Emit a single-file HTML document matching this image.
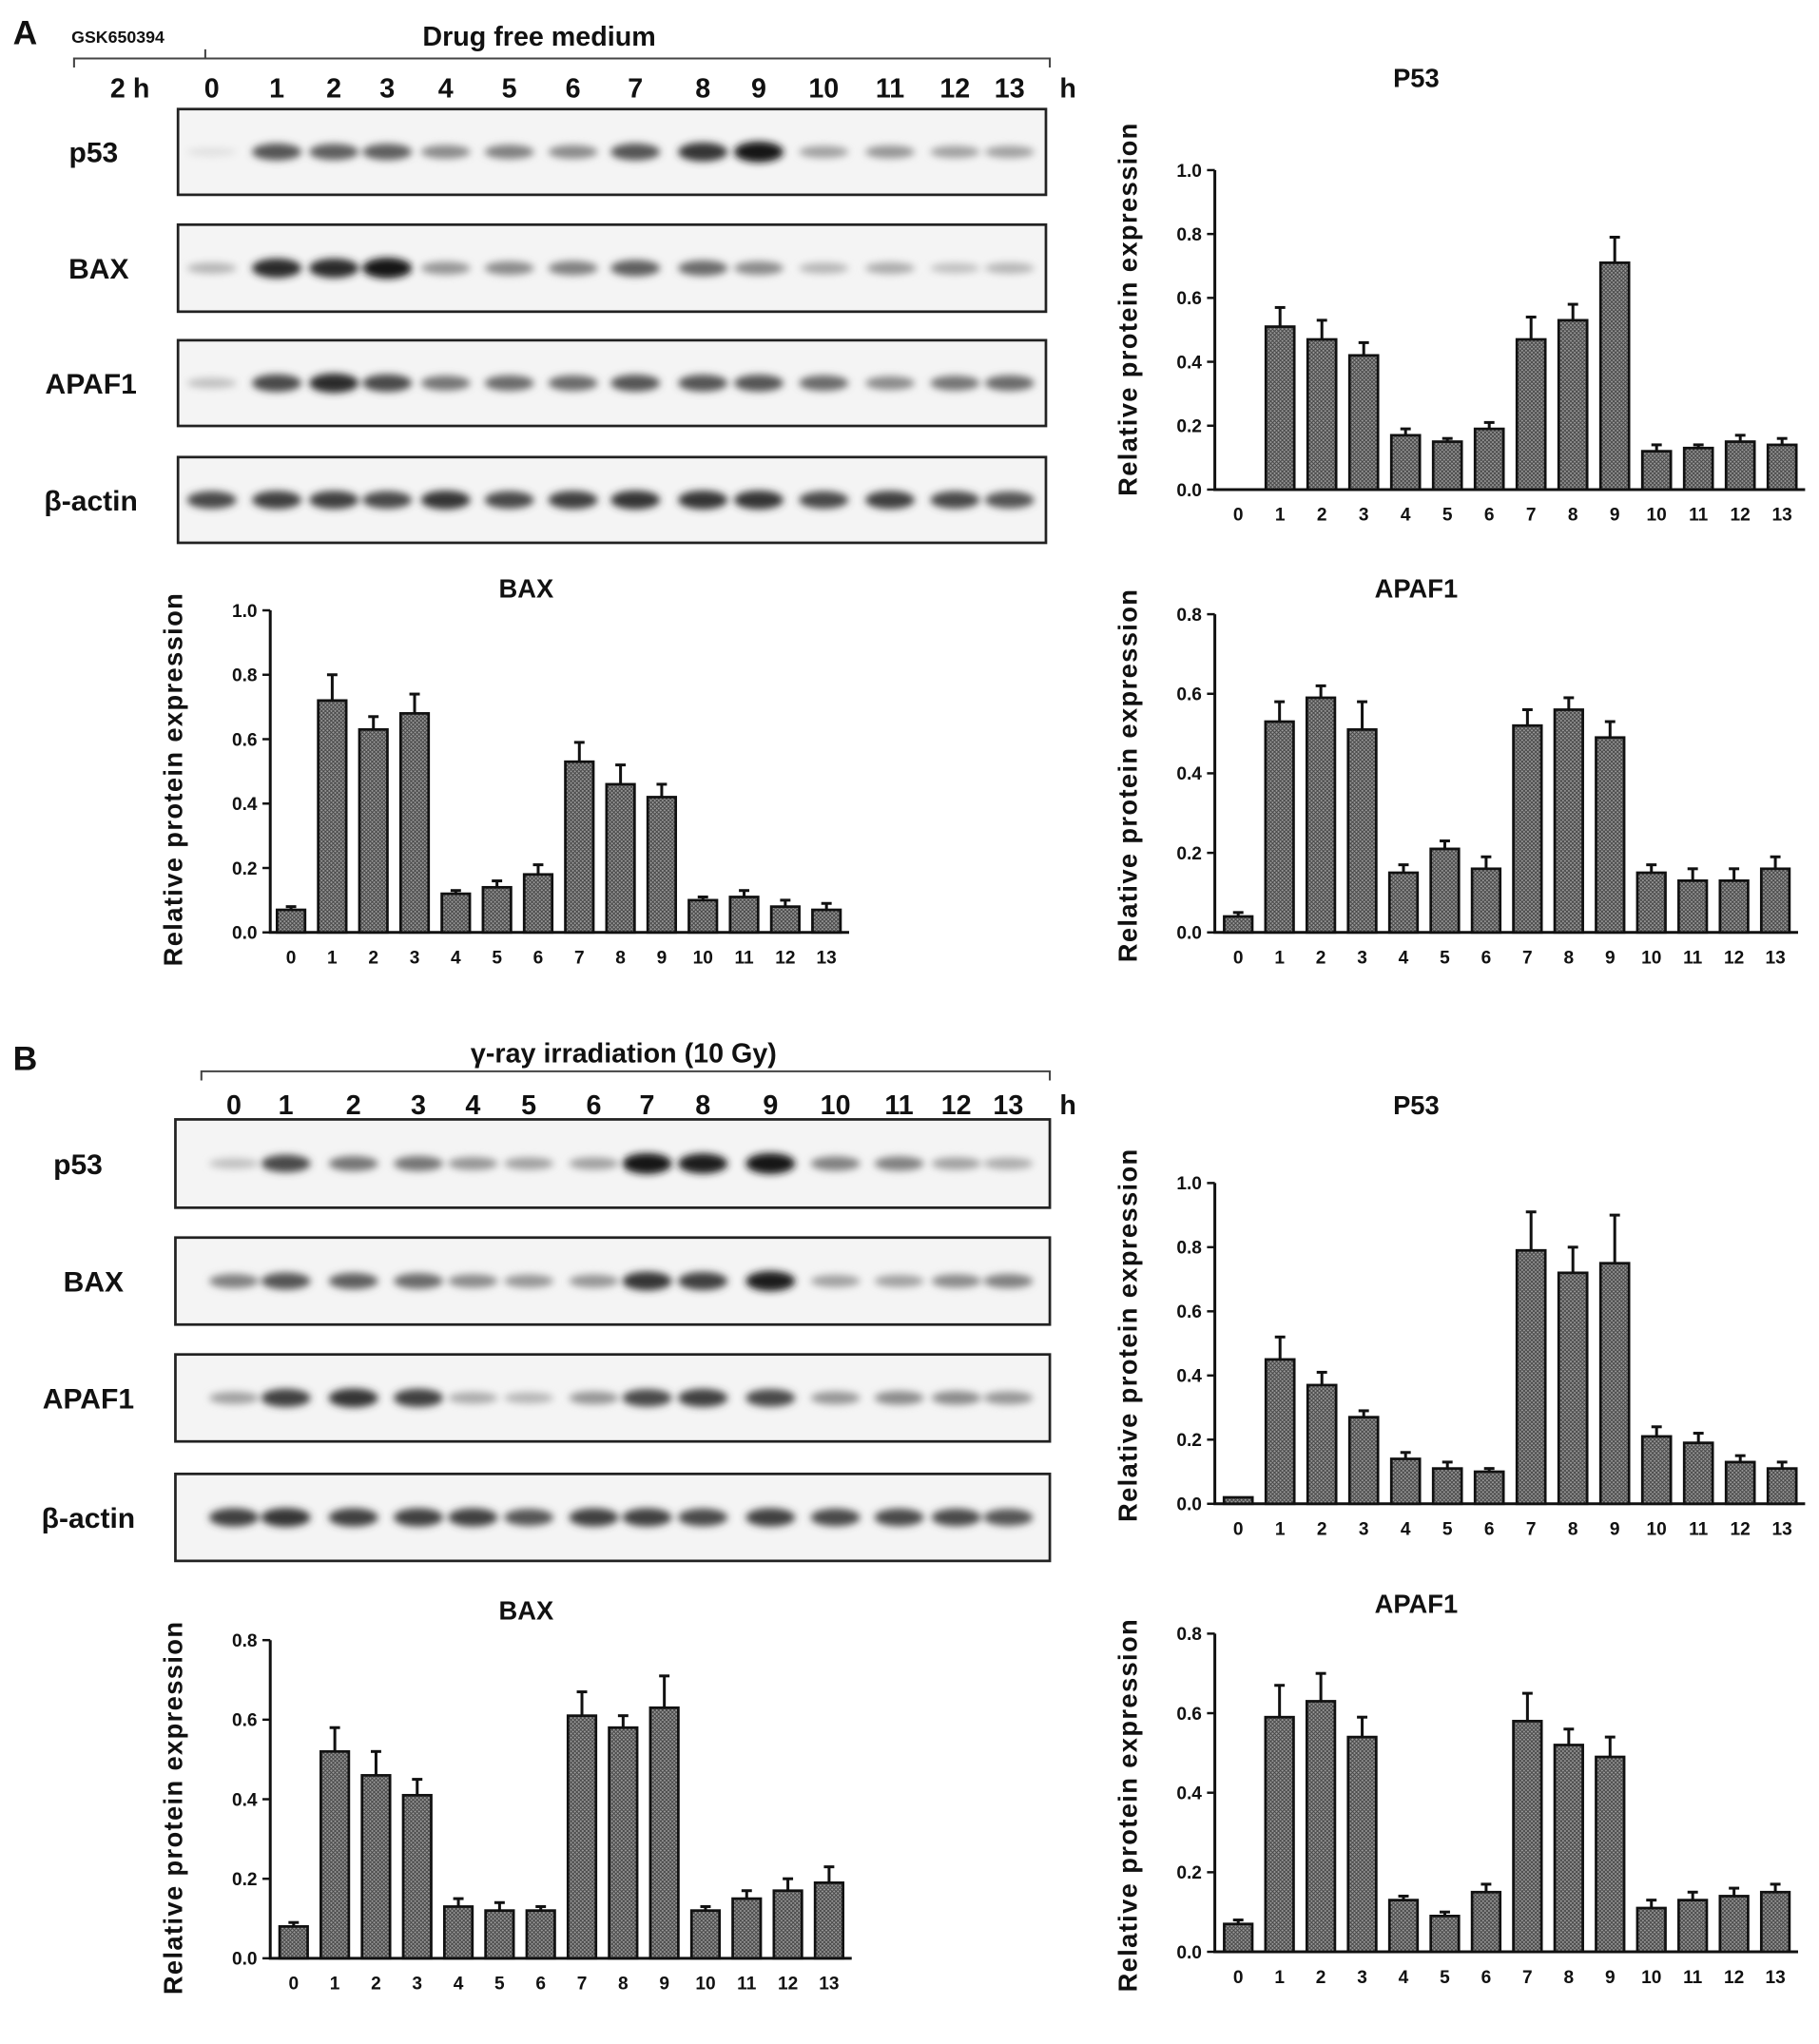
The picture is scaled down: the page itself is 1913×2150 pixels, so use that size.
<!DOCTYPE html>
<html><head><meta charset="utf-8">
<style>
html,body{margin:0;padding:0;background:#fff;}
svg{display:block;font-family:"Liberation Sans",sans-serif;font-weight:bold;}
</style></head>
<body>
<svg id="fig" width="1913" height="2150" viewBox="0 0 1400 1574" preserveAspectRatio="none" xmlns="http://www.w3.org/2000/svg">
<defs>
<pattern id="hatch" width="3" height="3" patternUnits="userSpaceOnUse">
<rect width="3" height="3" fill="#9a9a9a"/>
<path d="M0,0 L3,3 M3,0 L0,3" stroke="#444" stroke-width="0.7"/>
</pattern>
<filter id="blur" x="-50%" y="-50%" width="200%" height="200%"><feGaussianBlur stdDeviation="3"/></filter>
</defs>
<rect width="1400" height="1574" fill="#fff"/>
<g id="root"></g>
</svg>
<script>
// ---- chart data ----
const categories = ["0","1","2","3","4","5","6","7","8","9","10","11","12","13"];
const aP53 = [0,0.51,0.47,0.42,0.17,0.15,0.19,0.47,0.53,0.71,0.12,0.13,0.15,0.14];
const aP53Err = [0,0.06,0.06,0.04,0.02,0.01,0.02,0.07,0.05,0.08,0.02,0.01,0.02,0.02];
const aBAX = [0.07,0.72,0.63,0.68,0.12,0.14,0.18,0.53,0.46,0.42,0.10,0.11,0.08,0.07];
const aBAXErr = [0.01,0.08,0.04,0.06,0.01,0.02,0.03,0.06,0.06,0.04,0.01,0.02,0.02,0.02];
const aAPAF1 = [0.04,0.53,0.59,0.51,0.15,0.21,0.16,0.52,0.56,0.49,0.15,0.13,0.13,0.16];
const aAPAF1Err = [0.01,0.05,0.03,0.07,0.02,0.02,0.03,0.04,0.03,0.04,0.02,0.03,0.03,0.03];
const bP53 = [0.02,0.45,0.37,0.27,0.14,0.11,0.10,0.79,0.72,0.75,0.21,0.19,0.13,0.11];
const bP53Err = [0,0.07,0.04,0.02,0.02,0.02,0.01,0.12,0.08,0.15,0.03,0.03,0.02,0.02];
const bBAX = [0.08,0.52,0.46,0.41,0.13,0.12,0.12,0.61,0.58,0.63,0.12,0.15,0.17,0.19];
const bBAXErr = [0.01,0.06,0.06,0.04,0.02,0.02,0.01,0.06,0.03,0.08,0.01,0.02,0.03,0.04];
const bAPAF1 = [0.07,0.59,0.63,0.54,0.13,0.09,0.15,0.58,0.52,0.49,0.11,0.13,0.14,0.15];
const bAPAF1Err = [0.01,0.08,0.07,0.05,0.01,0.01,0.02,0.07,0.04,0.05,0.02,0.02,0.02,0.02];
const ticks10 = ["0.0","0.2","0.4","0.6","0.8","1.0"];
const ticks08 = ["0.0","0.2","0.4","0.6","0.8"];
// blot band intensities (0..1)
const aBlotP53 = [0.05,0.7,0.65,0.65,0.45,0.5,0.45,0.7,0.85,1,0.35,0.4,0.35,0.35];
const aBlotBAX = [0.25,0.9,0.9,1,0.4,0.45,0.5,0.65,0.6,0.45,0.25,0.3,0.2,0.25];
const aBlotAPAF1 = [0.2,0.75,0.9,0.75,0.55,0.6,0.6,0.7,0.7,0.7,0.6,0.45,0.55,0.6];
const aBlotActin = [0.75,0.8,0.8,0.75,0.85,0.75,0.8,0.85,0.85,0.85,0.75,0.8,0.75,0.7];
const bBlotP53 = [0.2,0.75,0.55,0.55,0.4,0.35,0.35,1,0.95,1,0.5,0.5,0.35,0.3];
const bBlotBAX = [0.5,0.7,0.65,0.6,0.45,0.4,0.4,0.85,0.8,0.95,0.35,0.35,0.45,0.5];
const bBlotAPAF1 = [0.35,0.8,0.85,0.8,0.3,0.25,0.4,0.75,0.8,0.75,0.4,0.45,0.45,0.4];
const bBlotActin = [0.8,0.85,0.8,0.8,0.8,0.7,0.8,0.8,0.75,0.8,0.75,0.75,0.75,0.7];

const NS="http://www.w3.org/2000/svg";
const root=document.getElementById('root');
function el(tag,attrs,parent){const e=document.createElementNS(NS,tag);for(const k in attrs)e.setAttribute(k,attrs[k]);(parent||root).appendChild(e);return e;}
function txt(x,y,s,size,parent,anchor){const t=el('text',{x:x,y:y,'font-size':size,'text-anchor':anchor||'middle',fill:'#111'},parent);t.textContent=s;return t;}

function chart(name,cfg,vals,errs,ticks){
  const g=el('g',{});
  
  
  const ymax=cfg.ymax;
  const sy=v=>cfg.y0-(v/ymax)*(cfg.y0-cfg.ytop);
  const sx=i=>cfg.x1+i*cfg.dx;
  const ax=el('path',{d:`M${cfg.ax},${cfg.ytop} V${cfg.y0} H${sx(13)+cfg.dx*0.55}`,stroke:'#111','stroke-width':2.2,fill:'none'},g);
  
  
  ticks.forEach((t,i)=>{
    const v=parseFloat(t);const y=sy(v);
    el('line',{x1:cfg.ax-6,x2:cfg.ax,y1:y,y2:y,stroke:'#111','stroke-width':1.8},g);
    const lt=txt(cfg.ax-10,y+5,t,14,g,'end');
    
    
  });
  const bw=cfg.dx*0.68;
  vals.forEach((v,i)=>{
    const x=sx(i);
    if(v>0){
      const top=sy(v);
      const et=sy(v+errs[i]);
      if(errs[i]>0){
        el('line',{x1:x,x2:x,y1:top,y2:et,stroke:'#111','stroke-width':2.2},g);
        el('line',{x1:x-4,x2:x+4,y1:et,y2:et,stroke:'#111','stroke-width':2.2},g);
      }
      const r=el('rect',{x:x-bw/2,y:top,width:bw,height:cfg.y0-top,fill:'url(#hatch)',stroke:'#111','stroke-width':2},g);
      
      
    }
    const xl=txt(x,cfg.y0+24,categories[i],14,g);
    
    
  });
  const ti=txt(cfg.tx,cfg.ty,cfg.title,20,g);
  
  
  const yl=el('text',{x:0,y:0,'font-size':20,'text-anchor':'middle',fill:'#111','letter-spacing':'1',transform:`translate(${cfg.lx},${cfg.ly}) rotate(-90)`},g);
  yl.textContent='Relative protein expression';
  
  
}

function blot(name,label,x1,y1,x2,y2,lanes,ints,labX){
  const g=el('g',{});
  
  
  el('rect',{x:x1,y:y1,width:x2-x1,height:y2-y1,fill:'#f4f4f4',stroke:'#222','stroke-width':2},g);
  const bg=el('g',{filter:'url(#blur)'},g);
  const cy=(y1+y2)/2;
  ints.forEach((v,i)=>{
    const c=Math.round(235-v*215);
    el('ellipse',{cx:lanes[i],cy:cy,rx:19,ry:3+v*5,fill:`rgb(${c},${c},${c})`},bg);
  });
  const t=txt(labX,cy+8,label,22,g);
  
  
}

// Panel A header
const laneA=[163,213,257,298,343,392,441,489,541,584,634,685,735,777];
const laneB=[180,220,272,322,364,407,457,498,541,593,643,692,736,776];
let t;
t=txt(10,34,'A',26,null,'start');
t=txt(55,33,'GSK650394',13,null,'start');
t=txt(415,35,'Drug free medium',21);
let br=el('path',{d:'M57,52 V45 H808 V52 M158,38 V45',stroke:'#444','stroke-width':1.5,fill:'none'});

t=txt(100,75,'2 h',21);
laneA.forEach((x,i)=>{const l=txt(x,75,categories[i],21);});
t=txt(822,75,'h',21);
blot('blot-a-p53','p53',137,84,805,150,laneA,aBlotP53,72);
blot('blot-a-bax','BAX',137,173,805,240,laneA,aBlotBAX,76);
blot('blot-a-apaf1','APAF1',137,262,805,328,laneA,aBlotAPAF1,70);
blot('blot-a-actin','β-actin',137,352,805,418,laneA,aBlotActin,70);

// Panel B header
t=txt(10,824,'B',26,null,'start');
t=txt(480,818,'γ-ray irradiation (10 Gy)',21);
br=el('path',{d:'M155,832 V825 H808 V832',stroke:'#444','stroke-width':1.5,fill:'none'});

laneB.forEach((x,i)=>{const l=txt(x,858,categories[i],21);});
t=txt(822,858,'h',21);
blot('blot-b-p53','p53',135,862,808,930,laneB,bBlotP53,60);
blot('blot-b-bax','BAX',135,953,808,1020,laneB,bBlotBAX,72);
blot('blot-b-apaf1','APAF1',135,1043,808,1110,laneB,bBlotAPAF1,68);
blot('blot-b-actin','β-actin',135,1135,808,1202,laneB,bBlotActin,68);

// Charts
chart('chart-a-p53',{ax:935,x1:953,dx:32.2,y0:377,ytop:131,ymax:1.0,title:'P53',tx:1090,ty:67,lx:875,ly:238},aP53,aP53Err,ticks10);
chart('chart-a-bax',{ax:208,x1:224,dx:31.7,y0:718,ytop:470,ymax:1.0,title:'BAX',tx:405,ty:460,lx:140,ly:600},aBAX,aBAXErr,ticks10);
chart('chart-a-apaf1',{ax:935,x1:953,dx:31.8,y0:718,ytop:473,ymax:0.8,title:'APAF1',tx:1090,ty:460,lx:875,ly:597},aAPAF1,aAPAF1Err,ticks08);
chart('chart-b-p53',{ax:935,x1:953,dx:32.2,y0:1158,ytop:911,ymax:1.0,title:'P53',tx:1090,ty:858,lx:875,ly:1028},bP53,bP53Err,ticks10);
chart('chart-b-bax',{ax:208,x1:226,dx:31.7,y0:1508,ytop:1263,ymax:0.8,title:'BAX',tx:405,ty:1247,lx:140,ly:1392},bBAX,bBAXErr,ticks08);
chart('chart-b-apaf1',{ax:935,x1:953,dx:31.8,y0:1503,ytop:1258,ymax:0.8,title:'APAF1',tx:1090,ty:1242,lx:875,ly:1390},bAPAF1,bAPAF1Err,ticks08);
</script>
</body></html>
